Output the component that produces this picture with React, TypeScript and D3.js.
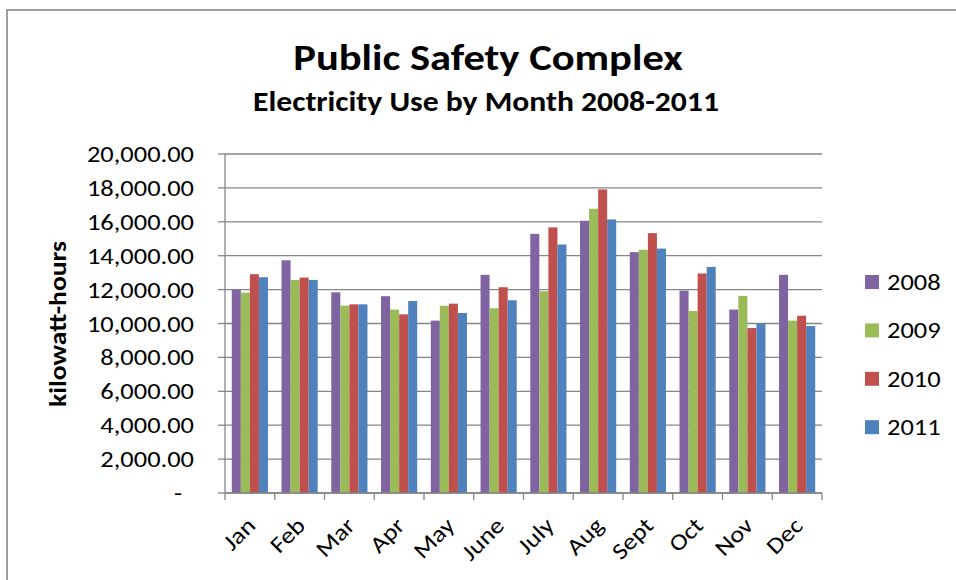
import React from "react";
import * as d3 from "d3";

// Monthly electricity use (kWh) for the Public Safety Complex
const months = ["Jan", "Feb", "Mar", "Apr", "May", "June", "July", "Aug", "Sept", "Oct", "Nov", "Dec"];
const years = ["2008", "2009", "2010", "2011"];
const kwh2008 = [12000, 13730, 11840, 11610, 10170, 12870, 15290, 16060, 14210, 11940, 10820, 12870];
const kwh2009 = [11820, 12570, 11050, 10820, 11050, 10900, 11900, 16770, 14350, 10740, 11630, 10170];
const kwh2010 = [12910, 12710, 11130, 10540, 11170, 12140, 15670, 17910, 15330, 12950, 9730, 10460];
const kwh2011 = [12730, 12570, 11130, 11330, 10620, 11370, 14660, 16140, 14420, 13340, 9990, 9850];
const yTicks = [0, 2000, 4000, 6000, 8000, 10000, 12000, 14000, 16000, 18000, 20000];

const seriesValues = [kwh2008, kwh2009, kwh2010, kwh2011];
const colors = ["#8064A2", "#9BBB59", "#C0504D", "#4F81BD"];

const W = 956;
const H = 580;
const FONT = "Carlito, Calibri, 'Liberation Sans', Arial, sans-serif";
const GRID = "#868686";
// glyphs are drawn slightly wide
const SX = 1.15;

const plot = { left: 225, right: 822, top: 154, bottom: 493 };

type TProps = {
  x: number;
  y: number;
  rotate?: number;
  anchor?: "start" | "middle" | "end";
  size: number;
  bold?: boolean;
  dy?: string;
  children: React.ReactNode;
};

function Label({ x, y, rotate = 0, anchor = "start", size, bold, dy, children }: TProps) {
  return (
    <text
      transform={`translate(${x},${y}) rotate(${rotate}) scale(${SX},1)`}
      textAnchor={anchor}
      fontSize={size}
      fontWeight={bold ? "bold" : "normal"}
      dy={dy}
      fill="#000"
    >
      {children}
    </text>
  );
}

export default function App() {
  const x = d3.scaleBand<string>().domain(months).range([plot.left, plot.right]).padding(0);
  const bw = x.bandwidth();
  const gap = bw * (1.5 / 5.5);
  const xs = d3
    .scaleBand<string>()
    .domain(years)
    .range([gap / 2, bw - gap / 2])
    .padding(0);
  const y = d3.scaleLinear().domain([0, 20000]).range([plot.bottom, plot.top]);
  const fmt = d3.format(",.2f");

  const boundaries = months.map((m) => x(m) as number).concat([plot.right]);

  return (
    <svg
      width={W}
      height={H}
      viewBox={`0 0 ${W} ${H}`}
      style={{ position: "absolute", left: 0, top: 0, background: "#fff" }}
      fontFamily={FONT}
    >
      <rect x={0} y={0} width={W} height={H} fill="#fff" />
      {/* chart area frame */}
      <rect x={7} y={10} width={W + 20} height={H + 20} fill="none" stroke={GRID} strokeWidth={1.6} />

      {/* titles */}
      <Label x={488} y={70} anchor="middle" size={37} bold>
        Public Safety Complex
      </Label>
      <Label x={486} y={111} anchor="middle" size={27.5} bold>
        Electricity Use by Month 2008-2011
      </Label>

      {/* gridlines */}
      {yTicks.map((t) => (
        <line
          key={"g" + t}
          x1={plot.left}
          x2={plot.right}
          y1={y(t)}
          y2={y(t)}
          stroke={GRID}
          strokeWidth={1.3}
        />
      ))}

      {/* bars */}
      {seriesValues.map((vals, si) =>
        vals.map((v, mi) => (
          <rect
            key={`b${si}-${mi}`}
            x={(x(months[mi]) as number) + (xs(years[si]) as number)}
            y={y(v)}
            width={xs.bandwidth()}
            height={y(0) - y(v)}
            fill={colors[si]}
          />
        ))
      )}

      {/* y axis */}
      <line x1={plot.left} x2={plot.left} y1={plot.top} y2={plot.bottom} stroke={GRID} strokeWidth={1.3} />
      {yTicks.map((t) => (
        <g key={"yt" + t}>
          <line x1={plot.left - 7} x2={plot.left} y1={y(t)} y2={y(t)} stroke={GRID} strokeWidth={1.3} />
          <Label x={t === 0 ? 182 : 194} y={y(t)} dy="0.35em" anchor="end" size={23}>
            {t === 0 ? "-" : fmt(t)}
          </Label>
        </g>
      ))}

      {/* x axis */}
      <line x1={plot.left} x2={plot.right} y1={plot.bottom} y2={plot.bottom} stroke={GRID} strokeWidth={1.3} />
      {boundaries.map((bx, i) => (
        <line key={"xt" + i} x1={bx} x2={bx} y1={plot.bottom} y2={plot.bottom + 7} stroke={GRID} strokeWidth={1.3} />
      ))}
      {months.map((m) => {
        const cx = (x(m) as number) + bw / 2;
        return (
          <Label key={"xl" + m} x={cx + 7} y={527} rotate={-45} anchor="end" size={23}>
            {m}
          </Label>
        );
      })}

      {/* y axis title */}
      <Label x={66} y={324} rotate={-90} anchor="middle" size={24} bold>
        kilowatt-hours
      </Label>

      {/* legend */}
      {years.map((yr, i) => {
        const cy = 282 + i * 48.4;
        return (
          <g key={"lg" + yr}>
            <rect x={865} y={cy - 7} width={14} height={14} fill={colors[i]} />
            <Label x={887} y={cy} dy="0.35em" size={23}>
              {yr}
            </Label>
          </g>
        );
      })}
    </svg>
  );
}
